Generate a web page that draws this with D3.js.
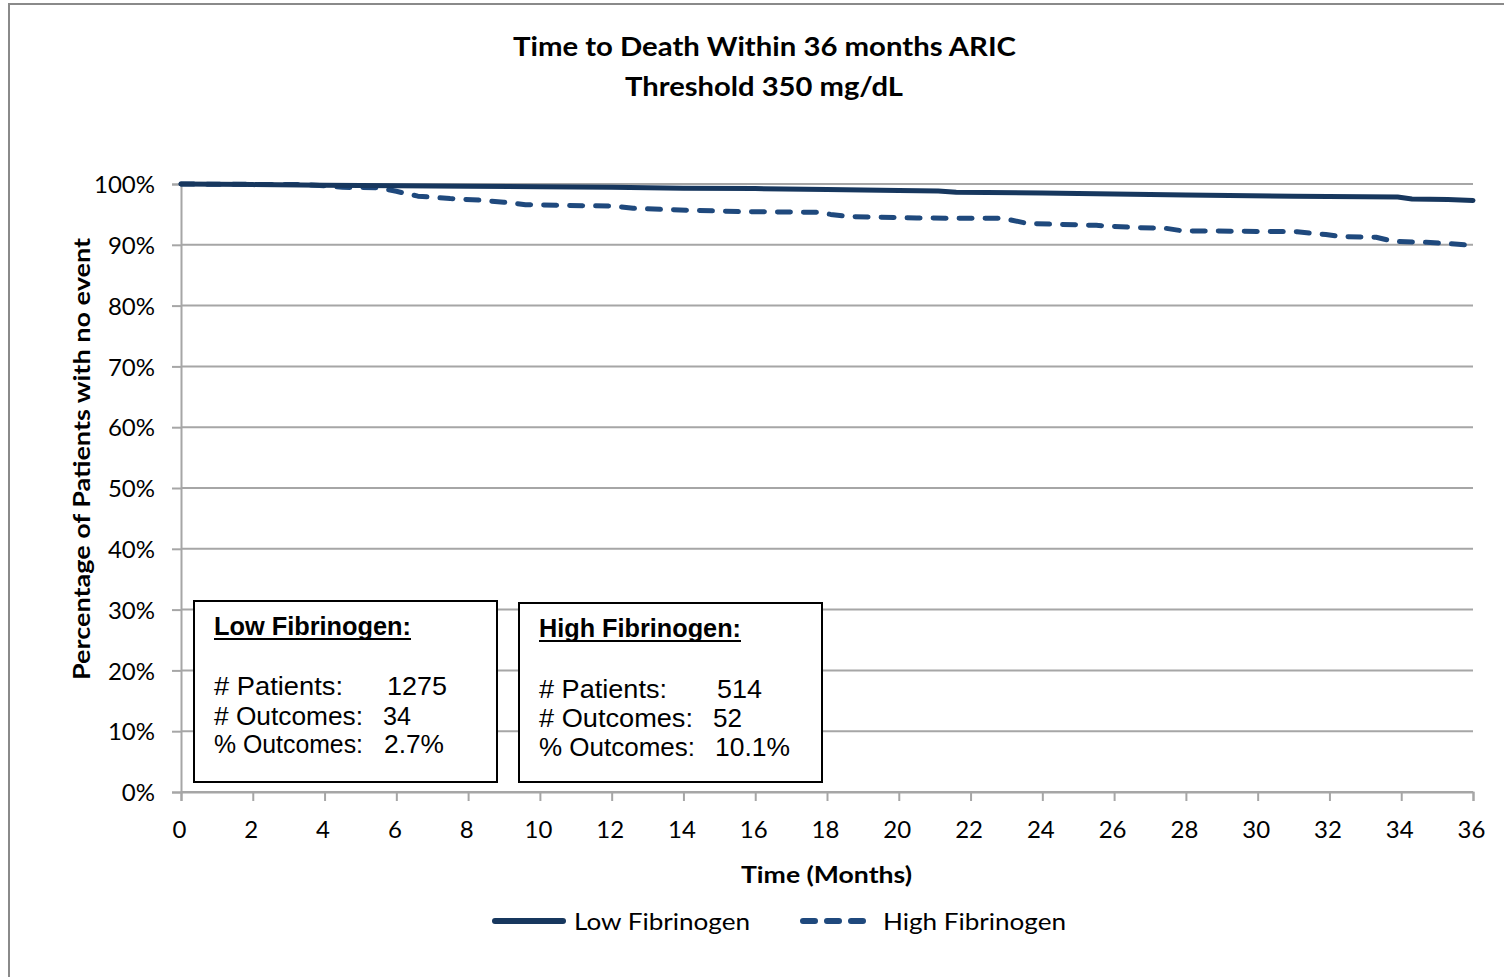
<!DOCTYPE html>
<html>
<head>
<meta charset="utf-8">
<script src="https://cdn.jsdelivr.net/npm/d3@7"></script>
<style>
  html, body { margin: 0; padding: 0; background: #fff; }
  svg { display: block; }
</style>
</head>
<body>
<svg id="chart" width="1504" height="977"></svg>
<script>
// Kaplan–Meier style survival (share of patients with no event) by month
const lowMonths   = [0, 2, 4, 6, 8, 10, 12, 14, 16, 18, 20, 21.1, 21.6, 24, 26, 28, 31, 33.9, 34.3, 35.3, 36];
const lowSurvival = [1.000, 0.999, 0.998, 0.997, 0.9965, 0.9955, 0.9945, 0.993, 0.9925, 0.991, 0.9895, 0.9885, 0.9865, 0.985, 0.9835, 0.982, 0.980, 0.9785, 0.9755, 0.9745, 0.973];

const highMonths   = [0, 3.4, 4.0, 4.5, 5.5, 6.0, 6.6, 7.5, 8.3, 9.0, 9.6, 12.1, 12.6, 13.5, 15.6, 17.8, 18.1, 18.6, 20.5, 22.9, 23.6, 25.5, 26.7, 27.4, 27.9, 31.1, 31.5, 31.9, 32.3, 33.3, 33.8, 34.7, 35.3, 36];
const highSurvival = [1.000, 0.999, 0.997, 0.9945, 0.994, 0.988, 0.980, 0.976, 0.9735, 0.970, 0.966, 0.9635, 0.960, 0.958, 0.9545, 0.9535, 0.950, 0.9465, 0.944, 0.9435, 0.935, 0.932, 0.928, 0.9275, 0.923, 0.9215, 0.919, 0.917, 0.9135, 0.9125, 0.9055, 0.904, 0.902, 0.899];

const yTicks = [0, 0.1, 0.2, 0.3, 0.4, 0.5, 0.6, 0.7, 0.8, 0.9, 1.0];
const xTicks = d3.range(0, 37, 2);

const seriesNames = ["Low Fibrinogen", "High Fibrinogen"];
const boxHeadings = ["Low Fibrinogen:", "High Fibrinogen:"];
const statLabels  = ["# Patients:", "# Outcomes:", "% Outcomes:"];
const lowStats    = ["1275", "34", "2.7%"];
const highStats   = ["514", "52", "10.1%"];

const titleLines = ["Time to Death Within 36 months ARIC", "Threshold 350 mg/dL"];
const yTitle = "Percentage of Patients with no event";
const xTitle = "Time (Months)";

const lowColor = "#17375E";
const highColor = "#1F497D";
const gridColor = "#a6a6a6";

const svg = d3.select("#chart");
svg.append("rect").attr("width", 1504).attr("height", 977).attr("fill", "#fff");

// chart frame
svg.append("rect")
  .attr("x", 9).attr("y", 4).attr("width", 1520).attr("height", 1000)
  .attr("fill", "none").attr("stroke", "#8a8a8a").attr("stroke-width", 2);

const x = d3.scaleLinear().domain([0, 36]).range([181, 1473]);
const y = d3.scaleLinear().domain([0, 1]).range([792, 184]);

// gridlines
svg.append("g")
  .selectAll("line")
  .data(yTicks)
  .join("line")
  .attr("x1", x(0)).attr("x2", x(36))
  .attr("y1", d => y(d)).attr("y2", d => y(d))
  .attr("stroke", gridColor).attr("stroke-width", 2);

// y axis
const yAxis = svg.append("g")
  .attr("transform", `translate(${x(0)},0)`)
  .call(d3.axisLeft(y).tickValues(yTicks).tickSize(9).tickPadding(17).tickFormat(d3.format(".0%")));
yAxis.select(".domain").attr("stroke", gridColor).attr("stroke-width", 2);
yAxis.selectAll(".tick line").attr("stroke", gridColor).attr("stroke-width", 2);
yAxis.selectAll(".tick text")
  .attr("font-family", "Lato").attr("font-size", 24).attr("fill", "#000")
  .attr("dy", "0.36em");

// x axis
const xAxis = svg.append("g")
  .attr("transform", `translate(0,${y(0)})`)
  .call(d3.axisBottom(x).tickValues(xTicks).tickSize(9).tickPadding(20).tickFormat(d3.format("d")));
xAxis.select(".domain").attr("stroke", gridColor).attr("stroke-width", 2);
xAxis.selectAll(".tick line").attr("stroke", gridColor).attr("stroke-width", 2);
xAxis.selectAll(".tick text")
  .attr("font-family", "Lato").attr("font-size", 24).attr("fill", "#000")
  .attr("dx", -2);

// survival lines
const line = d3.line().x(d => x(d[0])).y(d => y(d[1]));
const lowData = lowMonths.map((m, i) => [m, lowSurvival[i]]);
const highData = highMonths.map((m, i) => [m, highSurvival[i]]);

svg.append("path")
  .attr("d", line(highData))
  .attr("fill", "none").attr("stroke", highColor).attr("stroke-width", 5)
  .attr("stroke-linecap", "round").attr("stroke-linejoin", "round")
  .attr("stroke-dasharray", "13 13");

svg.append("path")
  .attr("d", line(lowData))
  .attr("fill", "none").attr("stroke", lowColor).attr("stroke-width", 5)
  .attr("stroke-linecap", "round").attr("stroke-linejoin", "round");

// titles
const title = svg.append("g").attr("font-family", "Lato").attr("font-weight", "bold").attr("fill", "#000");
title.append("text").attr("x", 764.5).attr("y", 56).attr("text-anchor", "middle")
  .attr("font-size", 27).attr("textLength", 503).attr("lengthAdjust", "spacingAndGlyphs").text(titleLines[0]);
title.append("text").attr("x", 764).attr("y", 96).attr("text-anchor", "middle")
  .attr("font-size", 27).attr("textLength", 278).attr("lengthAdjust", "spacingAndGlyphs").text(titleLines[1]);

svg.append("text")
  .attr("transform", "translate(90,459) rotate(-90)")
  .attr("text-anchor", "middle")
  .attr("font-family", "Lato").attr("font-weight", "bold").attr("font-size", 23)
  .attr("textLength", 442).attr("lengthAdjust", "spacingAndGlyphs")
  .text(yTitle);

svg.append("text")
  .attr("x", 826.5).attr("y", 883).attr("text-anchor", "middle")
  .attr("font-family", "Lato").attr("font-weight", "bold").attr("font-size", 23)
  .attr("textLength", 171).attr("lengthAdjust", "spacingAndGlyphs")
  .text(xTitle);

// legend
const legend = svg.append("g").attr("font-family", "Lato").attr("font-size", 23).attr("fill", "#000");
legend.append("line").attr("x1", 495).attr("x2", 563).attr("y1", 921).attr("y2", 921)
  .attr("stroke", lowColor).attr("stroke-width", 6).attr("stroke-linecap", "round");
legend.append("text").attr("x", 574).attr("y", 930)
  .attr("textLength", 176).attr("lengthAdjust", "spacingAndGlyphs").text(seriesNames[0]);
legend.append("line").attr("x1", 803).attr("x2", 863).attr("y1", 921).attr("y2", 921)
  .attr("stroke", highColor).attr("stroke-width", 6).attr("stroke-linecap", "round")
  .attr("stroke-dasharray", "12 12");
legend.append("text").attr("x", 883).attr("y", 930)
  .attr("textLength", 183).attr("lengthAdjust", "spacingAndGlyphs").text(seriesNames[1]);

// summary boxes
function statBox(bx, by, bw, bh, heading, headW, values, layout) {
  const g = svg.append("g");
  g.append("rect").attr("x", bx).attr("y", by).attr("width", bw).attr("height", bh)
    .attr("fill", "#fff").attr("stroke", "#000").attr("stroke-width", 2);
  const tx = bx + 20;
  g.append("text").attr("x", tx).attr("y", by + 34)
    .attr("font-family", "Liberation Sans Narrow, Liberation Sans").attr("font-weight", "bold")
    .attr("font-size", 25).attr("textLength", headW).attr("lengthAdjust", "spacingAndGlyphs")
    .text(heading);
  g.append("line").attr("x1", tx).attr("x2", tx + headW)
    .attr("y1", by + 38).attr("y2", by + 38).attr("stroke", "#000").attr("stroke-width", 2);
  statLabels.forEach((lab, i) => {
    const ty = by + layout.rows[i];
    g.append("text").attr("x", tx).attr("y", ty)
      .attr("font-family", "Liberation Sans").attr("font-size", 25)
      .attr("textLength", layout.labelW[i]).attr("lengthAdjust", "spacingAndGlyphs")
      .text(lab);
    g.append("text").attr("x", bx + layout.valX[i]).attr("y", ty)
      .attr("font-family", "Liberation Sans").attr("font-size", 25)
      .attr("textLength", layout.valW[i]).attr("lengthAdjust", "spacingAndGlyphs")
      .text(values[i]);
  });
}

statBox(194, 601, 303, 181, boxHeadings[0], 197, lowStats,
  { rows: [94, 124, 152], labelW: [129, 149, 149], valX: [193, 189, 190], valW: [60, 28, 60] });
statBox(519, 603, 303, 179, boxHeadings[1], 202, highStats,
  { rows: [95, 124, 153], labelW: [128, 154, 156], valX: [198, 194, 196], valW: [45, 29, 75] });
</script>
</body>
</html>
